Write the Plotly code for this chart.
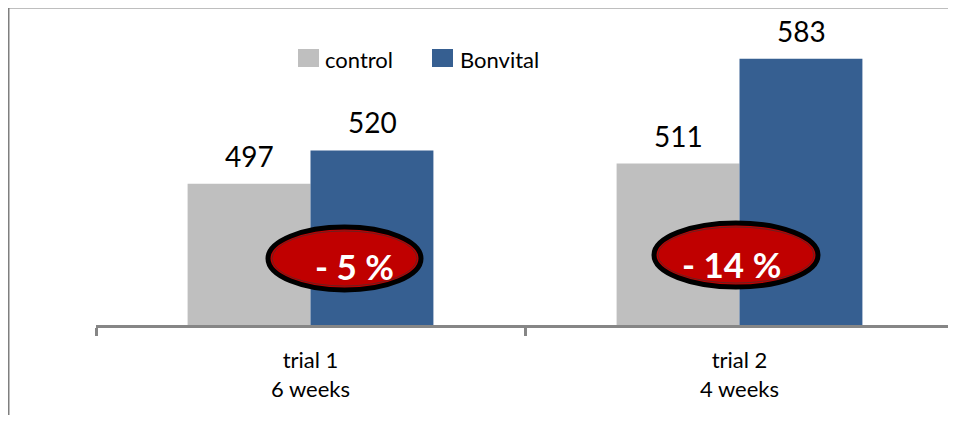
import plotly.graph_objects as go

# ---- data ----
categories = ["trial 1<br>6 weeks", "trial 2<br>4 weeks"]
series_names = ["control", "Bonvital"]
control_values = [497, 511]
bonvital_values = [520, 583]
diff_labels = ["- 5 %", "- 14 %"]

# ---- style ----
# page body has an 8px margin, so the figure is placed at (8, 8) on the page
OFF = 8
FW, FH = 948, 407
# plot area in page pixels
PL, PR, PT, PB = 96, 954, 34, 325
C_CONTROL = "#BFBFBF"
C_BONVITAL = "#365F91"
FONT = "Lato"
AXIS_GRAY = "#868686"


def px(x):
    return (x - PL) / (PR - PL)


def py(y):
    return (PB - y) / (PB - PT)


fig = go.Figure()
fig.add_trace(go.Bar(x=categories, y=control_values, name=series_names[0],
                     marker=dict(color=C_CONTROL, line=dict(width=0)), showlegend=False))
fig.add_trace(go.Bar(x=categories, y=bonvital_values, name=series_names[1],
                     marker=dict(color=C_BONVITAL, line=dict(width=0)), showlegend=False))

shapes = []
annotations = []

# value labels above bars
bar_half = 61.5
for cat, v in zip(categories, control_values):
    annotations.append(dict(x=cat, y=v, xref="x", yref="y", text=str(v), showarrow=False,
                            xshift=-bar_half, yshift=28, yanchor="middle",
                            font=dict(family=FONT, size=28, color="black")))
for cat, v in zip(categories, bonvital_values):
    annotations.append(dict(x=cat, y=v, xref="x", yref="y", text=str(v), showarrow=False,
                            xshift=bar_half, yshift=28, yanchor="middle",
                            font=dict(family=FONT, size=28, color="black")))

# red ellipses with percentage differences
ellipses = [((268, 227, 421, 290), (354, 266)), ((654, 223, 818, 287), (731, 264))]
for (x0, y0, x1, y1), (tx, ty) in ellipses:
    shapes.append(dict(type="circle", xref="paper", yref="paper",
                       x0=px(x0), x1=px(x1), y0=py(y1), y1=py(y0),
                       fillcolor="#C00000", line=dict(color="black", width=5)))
    shapes.append(dict(type="circle", xref="paper", yref="paper",
                       x0=px(x0 + 4), x1=px(x1 - 4), y0=py(y1 - 4), y1=py(y0 + 4),
                       fillcolor="rgba(0,0,0,0)", line=dict(color="#6a2020", width=1)))
for ((x0, y0, x1, y1), (tx, ty)), lab in zip(ellipses, diff_labels):
    annotations.append(dict(x=px(tx), y=py(ty), xref="paper", yref="paper", text=f"<b>{lab}</b>",
                            showarrow=False, xanchor="center", yanchor="middle",
                            font=dict(family=FONT, size=35, color="white")))

# manual legend
legend_items = [(298, 319, C_CONTROL, 323, series_names[0]), (432, 453, C_BONVITAL, 458, series_names[1])]
for sx0, sx1, col, tx, name in legend_items:
    shapes.append(dict(type="rect", xref="paper", yref="paper",
                       x0=px(sx0), x1=px(sx1), y0=py(67), y1=py(49),
                       fillcolor=col, line=dict(width=0)))
    annotations.append(dict(x=px(tx), y=py(59), xref="paper", yref="paper", text=name,
                            showarrow=False, xanchor="left", yanchor="middle",
                            font=dict(family=FONT, size=22, color="black")))

# chart frame (left and top edges)
shapes.append(dict(type="line", xref="paper", yref="paper", x0=px(8), x1=px(8), y0=py(440), y1=py(7),
                   line=dict(color="#7F7F7F", width=3)))
shapes.append(dict(type="line", xref="paper", yref="paper", x0=px(8), x1=px(970), y0=py(7), y1=py(7),
                   line=dict(color="#7F7F7F", width=3)))

fig.update_layout(
    width=FW, height=FH,
    margin=dict(l=PL - OFF, r=FW - (PR - OFF), t=PT - OFF, b=FH - (PB - OFF), pad=0),
    paper_bgcolor="white", plot_bgcolor="white",
    barmode="group", bargap=0.427, bargroupgap=0,
    shapes=shapes, annotations=annotations,
    showlegend=False,
    font=dict(family=FONT, color="black"),
)
fig.update_xaxes(showline=True, linecolor=AXIS_GRAY, linewidth=3,
                 ticks="outside", tickson="boundaries", ticklen=8, tickwidth=3, tickcolor=AXIS_GRAY,
                 tickfont=dict(family=FONT, size=22, color="black"), ticklabelstandoff=14,
                 showgrid=False, zeroline=False)
fig.update_yaxes(visible=False, range=[400, 600], showgrid=False, zeroline=False)

fig.write_html("out.html")
